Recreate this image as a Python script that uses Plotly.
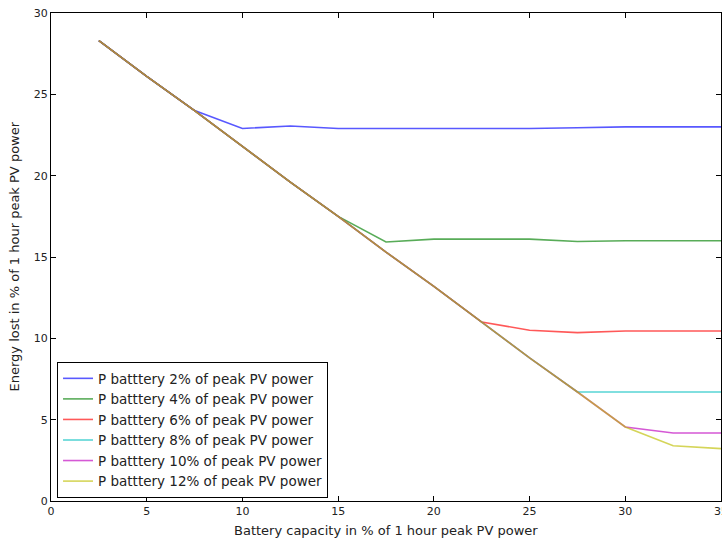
import plotly.graph_objects as go

capacity = [2.5, 5, 7.5, 10, 12.5, 15, 17.5, 20, 22.5, 25, 27.5, 30, 32.5, 35]

p2 = [28.3, 26.1, 24.0, 22.9, 23.05, 22.9, 22.9, 22.9, 22.9, 22.9, 22.95, 23.0, 23.0, 23.0]
p4 = [28.3, 26.1, 24.0, 21.8, 19.6, 17.5, 15.92, 16.1, 16.1, 16.1, 15.95, 16.0, 16.0, 16.0]
p6 = [28.3, 26.1, 24.0, 21.8, 19.6, 17.5, 15.3, 13.2, 11.0, 10.5, 10.35, 10.45, 10.45, 10.45]
p8 = [28.3, 26.1, 24.0, 21.8, 19.6, 17.5, 15.3, 13.2, 11.0, 8.8, 6.7, 6.7, 6.7, 6.7]
p10 = [28.3, 26.1, 24.0, 21.8, 19.6, 17.5, 15.3, 13.2, 11.0, 8.8, 6.7, 4.55, 4.18, 4.18]
p12 = [28.3, 26.1, 24.0, 21.8, 19.6, 17.5, 15.3, 13.2, 11.0, 8.8, 6.7, 4.55, 3.40, 3.22]

series = [p2, p4, p6, p8, p10, p12]
names = ["P batttery 2% of peak PV power", "P batttery 4% of peak PV power",
         "P batttery 6% of peak PV power", "P batttery 8% of peak PV power",
         "P batttery 10% of peak PV power", "P batttery 12% of peak PV power"]
colors = ["#0000ff", "#008000", "#ff0000", "#00bfbf", "#bf00bf", "#bfbf00"]

x_ticks = [0, 5, 10, 15, 20, 25, 30, 35]
y_ticks = [0, 5, 10, 15, 20, 25, 30]

FONT = "DejaVu Sans"

fig = go.Figure()
for ys, nm, c in zip(series, names, colors):
    fig.add_trace(go.Scatter(x=capacity, y=ys, mode="lines", name=nm,
                             line=dict(color=c, width=1.6), opacity=0.65))

axis_common = dict(showline=True, linecolor="black", linewidth=1, mirror="ticks",
                   ticks="inside", ticklen=5, tickcolor="black", tickwidth=1,
                   showgrid=False, zeroline=False,
                   tickfont=dict(family=FONT, size=11, color="#222"))

fig.update_layout(
    width=722, height=539,
    margin=dict(l=51, r=1, t=13, b=38, autoexpand=False),
    plot_bgcolor="white", paper_bgcolor="white",
    font=dict(family=FONT, color="black"),
    xaxis=dict(range=[0, 35], tickvals=x_ticks, ticklabeloverflow="allow", **axis_common),
    yaxis=dict(range=[0, 30], tickvals=y_ticks, **axis_common),
    showlegend=True,
    legend=dict(x=0.009, y=0.006, xanchor="left", yanchor="bottom",
                bordercolor="black", borderwidth=1, bgcolor="white",
                font=dict(family=FONT, size=13.5, color="#222"),
                itemwidth=30, tracegroupgap=0),
    annotations=[
        dict(text="Battery capacity in % of 1 hour peak PV power", x=0.5, y=0,
             xref="paper", yref="paper", xanchor="center", yanchor="top",
             yshift=-20, showarrow=False,
             font=dict(family=FONT, size=13, color="#222")),
        dict(text="Energy lost in % of 1 hour peak PV power", x=0, y=0.5,
             xref="paper", yref="paper", xanchor="right", yanchor="middle",
             xshift=-28, textangle=-90, showarrow=False,
             font=dict(family=FONT, size=13, color="#222")),
    ],
)

fig.write_html("out.html")
